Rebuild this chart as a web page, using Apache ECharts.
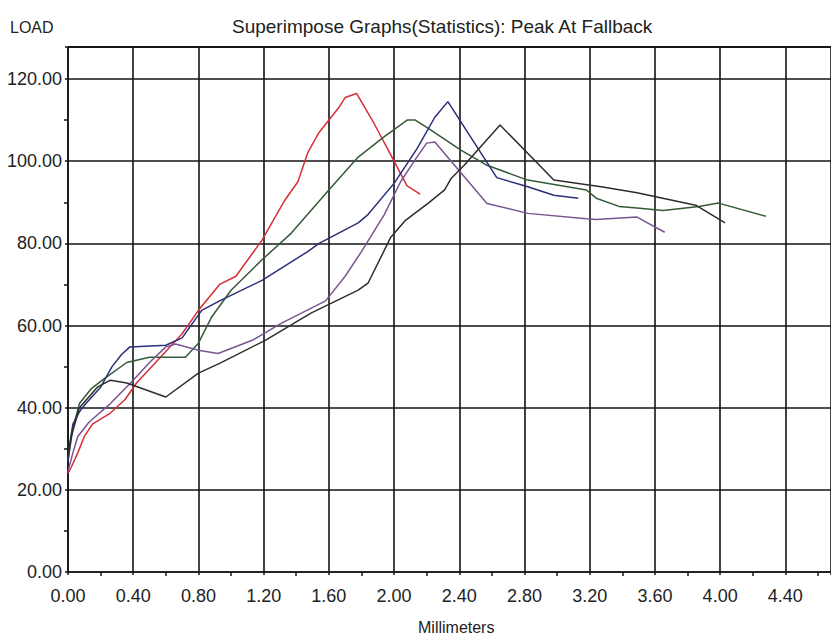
<!DOCTYPE html>
<html>
<head>
<meta charset="utf-8">
<script src="https://cdn.jsdelivr.net/npm/echarts@6/dist/echarts.min.js"></script>
<style>
html,body{margin:0;padding:0;background:#fff;}
#c{width:831px;height:639px;}
</style>
</head>
<body>
<div id="c"></div>
<script>
const FONT = "'Liberation Sans', Arial, sans-serif";
const chartTitle = 'Superimpose Graphs(Statistics): Peak At Fallback';
const yAxisTitle = 'LOAD';
const xAxisTitle = 'Millimeters';

const redX = [0.00,0.02,0.06,0.10,0.15,0.26,0.35,0.42,0.56,0.70,0.80,0.93,1.03,1.19,1.33,1.41,1.47,1.54,1.66,1.70,1.77,1.88,2.00,2.08,2.16];
const redY = [24,25.5,29,33,36,38.7,42,46,52,58,63.7,70,72,80.8,90.5,95,102,107,113,115.5,116.5,109,100,94,92];

const greenX = [0.00,0.03,0.07,0.14,0.21,0.36,0.50,0.72,0.80,0.88,1.00,1.19,1.37,1.60,1.78,1.94,2.08,2.13,2.21,2.41,2.57,2.82,3.18,3.24,3.38,3.49,3.65,3.87,3.99,4.28];
const greenY = [27,35,41,44.5,46.7,51,52.3,52.3,55.7,62,68.6,76,82.5,93,101,106,110,110,108,102.7,99,95.4,93,91,89,88.6,88,89,89.8,86.6];

const blueX = [0.00,0.01,0.03,0.07,0.11,0.20,0.27,0.33,0.38,0.60,0.70,0.82,0.93,1.19,1.47,1.54,1.78,1.84,2.00,2.14,2.25,2.33,2.63,2.82,2.98,3.13];
const blueY = [27,31,36,39,41,45,50,53,54.8,55.2,57,63.7,66,71,78,80,85,87,94.6,103,110.7,114.5,96,93.8,91.7,91];

const purpleX = [0.00,0.03,0.06,0.13,0.26,0.40,0.50,0.60,0.66,0.80,0.92,1.13,1.31,1.58,1.70,1.80,1.94,2.04,2.14,2.20,2.25,2.57,2.82,3.18,3.24,3.49,3.66];
const purpleY = [24.5,29,33,36.5,41,46.7,51,54.8,55.5,54,53.2,56.4,60.6,66,72,78,87,95,101,104.4,104.7,89.7,87.3,86,85.8,86.4,82.7];

const blackX = [0.00,0.02,0.07,0.18,0.26,0.36,0.60,0.80,0.93,1.21,1.49,1.78,1.84,1.98,2.07,2.21,2.31,2.35,2.43,2.65,2.98,3.28,3.49,3.85,4.03];
const blackY = [28,33,40,45,46.7,46,42.6,48.4,50.8,56.4,63,68.6,70.3,81.5,85.6,89.8,93,95.8,99,108.8,95.4,93.7,92.3,89.3,85];

const Y_MAX = 127.8;

const seriesDefs = [
  {name:'Red', xs:redX, ys:redY, color:'#d62f36'},
  {name:'Green', xs:greenX, ys:greenY, color:'#345a38'},
  {name:'Blue', xs:blueX, ys:blueY, color:'#2b2e78'},
  {name:'Purple', xs:purpleX, ys:purpleY, color:'#7a5690'},
  {name:'Black', xs:blackX, ys:blackY, color:'#2d2d2d'}
];

const AX = '#151515';
const GRID = {left:68, right:-5, top:47, bottom:67};
const chart = echarts.init(document.getElementById('c'), null, {renderer:'svg'});
const series = seriesDefs.map(s=>({
  name:s.name, type:'line', showSymbol:false, symbol:'none', smooth:false,
  data:s.xs.map((x,i)=>[x, s.ys[i]]),
  lineStyle:{color:s.color, width:1.5}
}));

chart.setOption({
  backgroundColor:'#fff',
  animation:false,
  title:[
    {text:yAxisTitle, left:10, top:19, padding:0, textStyle:{fontFamily:FONT, fontSize:16, fontWeight:'normal', color:'#222'}},
    {text:chartTitle, left:232, top:17, padding:0, textStyle:{fontFamily:FONT, fontSize:19, fontWeight:'normal', color:'#222'}}
  ],
  graphic:[{
    type:'text', left:418, top:619,
    style:{text:xAxisTitle, font:"16px 'Liberation Sans', Arial, sans-serif", fill:'#222'}
  },{
    type:'rect', z:10, silent:true,
    shape:{x:GRID.left, y:GRID.top - 1, width:831 - GRID.left, height:2},
    style:{fill:AX}
  }],
  grid:{left:GRID.left, right:GRID.right, top:GRID.top, bottom:GRID.bottom, containLabel:false},
  xAxis:{
    type:'value', min:0, max:4.68, interval:0.4,
    axisLine:{show:true, onZero:false, lineStyle:{color:AX, width:1.6}},
    axisTick:{show:true, inside:false, length:3, lineStyle:{color:AX, width:1.5}},
    minorTick:{show:true, splitNumber:2, length:4, lineStyle:{color:AX, width:1.5}},
    splitLine:{show:true, lineStyle:{color:AX, width:1.6}},
    axisLabel:{margin:15, fontFamily:FONT, fontSize:18, color:'#222', showMaxLabel:false,
      formatter:v=>v.toFixed(2)}
  },
  yAxis:{
    type:'value', min:0, max:Y_MAX, interval:20,
    axisLine:{show:true, lineStyle:{color:AX, width:1.6}},
    axisTick:{show:true, inside:false, length:3, lineStyle:{color:AX, width:1.5}},
    minorTick:{show:true, splitNumber:2, length:4, lineStyle:{color:AX, width:1.5}},
    splitLine:{show:true, lineStyle:{color:AX, width:1.6}},
    axisLabel:{margin:6, fontFamily:FONT, fontSize:18, color:'#222', showMaxLabel:false,
      formatter:v=>v.toFixed(2)}
  },
  series: series
});
</script>
</body>
</html>
